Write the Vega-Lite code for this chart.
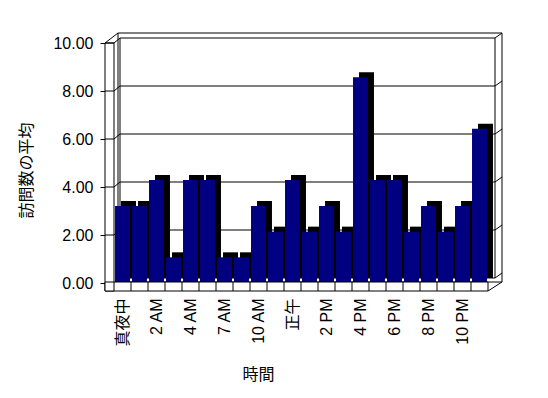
{
  "$schema": "https://vega.github.io/schema/vega-lite/v6.json",
  "width": 374,
  "height": 240,
  "autosize": {"type": "none"},
  "padding": {"left": 114, "top": 43, "right": 60, "bottom": 115},
  "background": "white",
  "config": {
    "view": {"stroke": null},
    "font": "Liberation Sans, Noto Sans CJK JP",
    "axisY": {
      "values": [0, 2, 4, 6, 8, 10], "format": ".2f", "offset": 9, "tickSize": 5, "tickColor": "black",
      "labelFontSize": 16, "labelPadding": 7, "labelColor": "black", "labelFont": "Liberation Sans, Noto Sans CJK JP",
      "domain": false, "grid": false,
      "titleFontSize": 16, "titleFontWeight": "normal", "titleColor": "black", "titleFont": "Noto Sans CJK JP",
      "titleX": -71, "titleY": 127
    }
  },
  "datasets": {
    "visits": [
      {"時間": "真夜中", "訪問数の平均": 3.21},
      {"時間": "1 AM", "訪問数の平均": 3.21},
      {"時間": "2 AM", "訪問数の平均": 4.29},
      {"時間": "3 AM", "訪問数の平均": 1.07},
      {"時間": "4 AM", "訪問数の平均": 4.29},
      {"時間": "5 AM", "訪問数の平均": 4.29},
      {"時間": "7 AM", "訪問数の平均": 1.07},
      {"時間": "8 AM", "訪問数の平均": 1.07},
      {"時間": "10 AM", "訪問数の平均": 3.21},
      {"時間": "11 AM", "訪問数の平均": 2.14},
      {"時間": "正午", "訪問数の平均": 4.29},
      {"時間": "1 PM", "訪問数の平均": 2.14},
      {"時間": "2 PM", "訪問数の平均": 3.21},
      {"時間": "3 PM", "訪問数の平均": 2.14},
      {"時間": "4 PM", "訪問数の平均": 8.57},
      {"時間": "5 PM", "訪問数の平均": 4.29},
      {"時間": "6 PM", "訪問数の平均": 4.29},
      {"時間": "7 PM", "訪問数の平均": 2.14},
      {"時間": "8 PM", "訪問数の平均": 3.21},
      {"時間": "9 PM", "訪問数の平均": 2.14},
      {"時間": "10 PM", "訪問数の平均": 3.21},
      {"時間": "11 PM", "訪問数の平均": 6.43}
    ],
    "one": [{}],
    "ticks": [{"v": 0}, {"v": 2}, {"v": 4}, {"v": 6}, {"v": 8}, {"v": 10}],
    "inner": [{"v": 2}, {"v": 4}, {"v": 6}, {"v": 8}]
  },
  "layer": [
    {
      "data": {"name": "one"},
      "mark": {"type": "rect", "fill": "white", "stroke": "black", "strokeWidth": 1, "xOffset": 4, "x2Offset": 14, "yOffset": -10, "y2Offset": -1},
      "encoding": {
        "x": {"datum": 0, "type": "quantitative", "scale": {"domain": [0, 1], "nice": false, "zero": false}, "axis": null},
        "x2": {"datum": 1},
        "y": {"datum": 10, "type": "quantitative", "scale": {"domain": [0, 10], "nice": false}, "axis": {"title": "訪問数の平均"}},
        "y2": {"datum": 0}
      }
    },
    {
      "data": {"name": "one"},
      "mark": {"type": "rect", "fill": "white", "stroke": "black", "strokeWidth": 1, "xOffset": 6, "x2Offset": 7, "yOffset": -5, "y2Offset": -5},
      "encoding": {
        "x": {"datum": 0, "type": "quantitative", "scale": {"domain": [0, 1], "nice": false, "zero": false}, "axis": null},
        "x2": {"datum": 1},
        "y": {"datum": 10, "type": "quantitative", "axis": {"title": "訪問数の平均"}},
        "y2": {"datum": 0}
      }
    },
    {
      "data": {"name": "inner"},
      "mark": {"type": "rule", "color": "black", "strokeWidth": 1, "xOffset": 6, "x2Offset": 7, "yOffset": -5},
      "encoding": {
        "x": {"datum": 0, "type": "quantitative", "scale": {"domain": [0, 1], "nice": false, "zero": false}, "axis": null},
        "x2": {"datum": 1},
        "y": {"field": "v", "type": "quantitative", "axis": {"title": "訪問数の平均"}}
      }
    },
    {
      "data": {"name": "ticks"},
      "mark": {"type": "rule", "color": "black", "strokeWidth": 1, "xOffset": 7, "x2Offset": 14, "yOffset": -5, "y2Offset": -10},
      "encoding": {
        "x": {"datum": 1, "type": "quantitative", "scale": {"domain": [0, 1], "nice": false, "zero": false}, "axis": null},
        "x2": {"datum": 1},
        "y": {"field": "v", "type": "quantitative", "axis": {"title": "訪問数の平均"}},
        "y2": {"field": "v"}
      }
    },
    {
      "data": {"name": "one"},
      "mark": {"type": "rect", "fill": "white", "stroke": "black", "strokeWidth": 1, "xOffset": -9, "x2Offset": 0, "yOffset": 0, "y2Offset": 8},
      "encoding": {
        "x": {"datum": 0, "type": "quantitative", "scale": {"domain": [0, 1], "nice": false, "zero": false}, "axis": null},
        "x2": {"datum": 0},
        "y": {"datum": 10, "type": "quantitative", "axis": {"title": "訪問数の平均"}},
        "y2": {"datum": 0}
      }
    },
    {
      "data": {"name": "one"},
      "mark": {"type": "rule", "color": "black", "strokeWidth": 1, "xOffset": -9, "x2Offset": 4, "yOffset": 0, "y2Offset": -10},
      "encoding": {
        "x": {"datum": 0, "type": "quantitative", "scale": {"domain": [0, 1], "nice": false, "zero": false}, "axis": null},
        "x2": {"datum": 0},
        "y": {"datum": 10, "type": "quantitative", "axis": {"title": "訪問数の平均"}},
        "y2": {"datum": 10}
      }
    },
    {
      "data": {"name": "ticks"},
      "mark": {"type": "rule", "color": "black", "strokeWidth": 1, "xOffset": 0, "x2Offset": 6, "yOffset": 0, "y2Offset": -5},
      "encoding": {
        "x": {"datum": 0, "type": "quantitative", "scale": {"domain": [0, 1], "nice": false, "zero": false}, "axis": null},
        "x2": {"datum": 0},
        "y": {"field": "v", "type": "quantitative", "axis": {"title": "訪問数の平均"}},
        "y2": {"field": "v"}
      }
    },
    {
      "data": {"name": "ticks"},
      "mark": {"type": "rule", "color": "black", "strokeWidth": 1, "xOffset": -9, "x2Offset": 0},
      "encoding": {
        "x": {"datum": 0, "type": "quantitative", "scale": {"domain": [0, 1], "nice": false, "zero": false}, "axis": null},
        "x2": {"datum": 0},
        "y": {"field": "v", "type": "quantitative", "axis": {"title": "訪問数の平均"}}
      }
    },
    {
      "data": {"name": "visits"},
      "mark": {"type": "bar", "color": "black", "xOffset": 6, "x2Offset": 6, "yOffset": -5, "y2Offset": -5},
      "encoding": {
        "x": {"field": "時間", "type": "nominal", "sort": null, "scale": {"paddingInner": 0.12, "paddingOuter": 0.06}, "axis": null},
        "y": {"field": "訪問数の平均", "type": "quantitative", "axis": {"title": "訪問数の平均"}}
      }
    },
    {
      "data": {"name": "visits"},
      "mark": {"type": "bar", "color": "#000080"},
      "encoding": {
        "x": {
          "field": "時間", "type": "nominal", "sort": null,
          "scale": {"paddingInner": 0.12, "paddingOuter": 0.06},
          "axis": {
            "values": ["真夜中", "2 AM", "4 AM", "7 AM", "10 AM", "正午", "2 PM", "4 PM", "6 PM", "8 PM", "10 PM"],
            "labelAngle": -90, "labelFontSize": 16, "labelPadding": 15, "labelColor": "black", "labelFont": "Liberation Sans, Noto Sans CJK JP",
            "ticks": false, "tickSize": 0, "domain": false,
            "title": "時間", "titleFontSize": 16, "titleFontWeight": "normal", "titleColor": "black", "titleFont": "Noto Sans CJK JP",
            "titleX": 144, "titleY": 83, "titleBaseline": "top"
          }
        },
        "y": {"field": "訪問数の平均", "type": "quantitative", "axis": {"title": "訪問数の平均"}}
      }
    },
    {
      "data": {"name": "one"},
      "mark": {"type": "rect", "fill": "white", "stroke": "black", "strokeWidth": 1, "xOffset": -9, "x2Offset": 0, "yOffset": -1, "y2Offset": 8},
      "encoding": {
        "x": {"datum": 0, "type": "quantitative", "scale": {"domain": [0, 1], "nice": false, "zero": false}, "axis": null},
        "x2": {"datum": 1},
        "y": {"datum": 0, "type": "quantitative", "axis": {"title": "訪問数の平均"}},
        "y2": {"datum": 0}
      }
    },
    {
      "data": {"name": "visits"},
      "mark": {"type": "rule", "color": "black", "strokeWidth": 1, "xOffset": -8.5, "yOffset": -1, "y2Offset": 8},
      "encoding": {
        "x": {"field": "時間", "type": "nominal", "sort": null, "scale": {"paddingInner": 0.12, "paddingOuter": 0.06}, "axis": null},
        "y": {"datum": 0, "type": "quantitative", "axis": {"title": "訪問数の平均"}},
        "y2": {"datum": 0}
      }
    },
    {
      "data": {"name": "one"},
      "mark": {"type": "rule", "color": "black", "strokeWidth": 1, "xOffset": 0, "x2Offset": 14, "yOffset": 8, "y2Offset": -1},
      "encoding": {
        "x": {"datum": 1, "type": "quantitative", "scale": {"domain": [0, 1], "nice": false, "zero": false}, "axis": null},
        "x2": {"datum": 1},
        "y": {"datum": 0, "type": "quantitative", "axis": {"title": "訪問数の平均"}},
        "y2": {"datum": 0}
      }
    }
  ],
  "resolve": {"scale": {"x": "independent"}}
}
